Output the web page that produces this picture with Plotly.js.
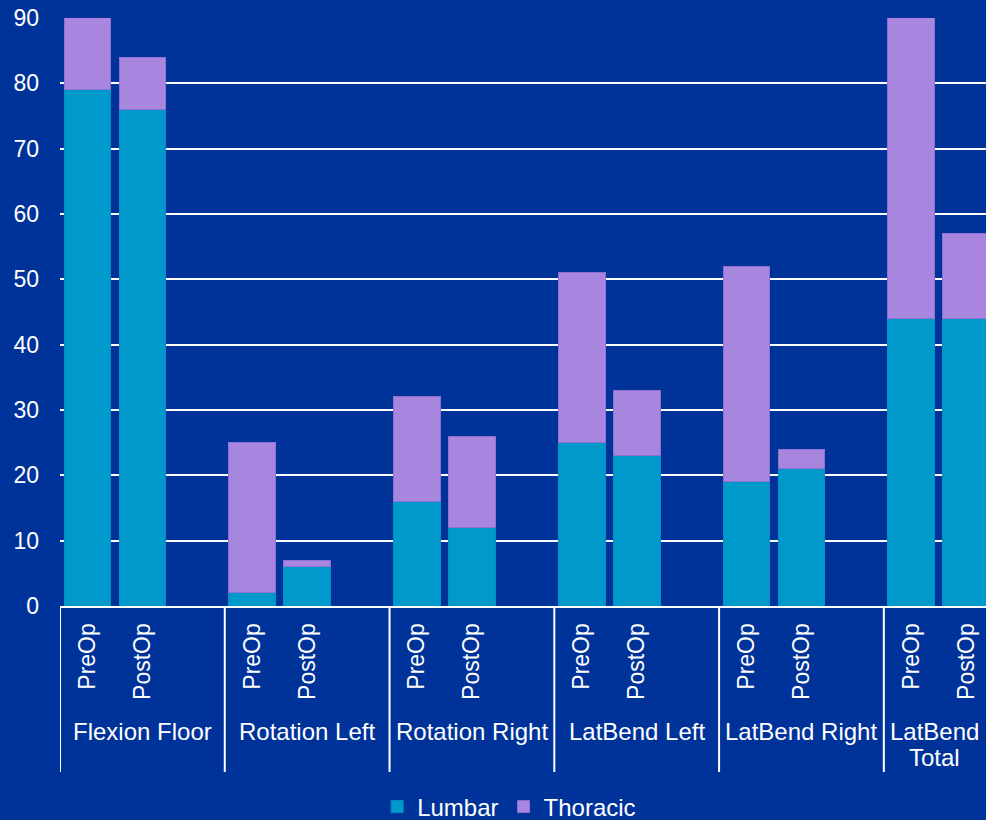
<!DOCTYPE html>
<html>
<head>
<meta charset="utf-8">
<script src="https://cdn.plot.ly/plotly-3.0.1.min.js"></script>
<style>
  html, body { margin: 0; padding: 0; background: #003399; }
  #chart { width: 986px; height: 820px; }
</style>
</head>
<body>
<div id="chart"></div>
<script>
// Movement groups and the two measurement phases within each group
const groups = ['Flexion Floor', 'Rotation Left', 'Rotation Right', 'LatBend Left', 'LatBend Right', 'LatBend Total'];
const groupLabels = ['Flexion Floor', 'Rotation Left', 'Rotation Right', 'LatBend Left', 'LatBend Right', 'LatBend<br>Total'];
const phases = ['PreOp', 'PostOp'];

// Stacked values, ordered group by group: [PreOp, PostOp]
const lumbar   = [79, 76,  2, 6, 16, 12, 25, 23, 19, 21, 44, 44];
const thoracic = [12,  8, 23, 1, 16, 14, 26, 10, 33,  3, 59, 13];

const yTicks = [0, 10, 20, 30, 40, 50, 60, 70, 80, 90];

// ---- layout geometry ----
const W = 986, H = 820;
const M = { l: 60, r: 0, t: 18, b: 214 };
const plotH = H - M.t - M.b;
const plotBottom = H - M.b;
const py = (px) => (plotBottom - px) / plotH;   // pixel row -> paper y

// each group takes its phases plus one empty slot
const slots = phases.length + 1;
const xs = [], tickText = [];
groups.forEach((g, gi) => phases.forEach((p, pi) => { xs.push(gi * slots + pi); tickText.push(p); }));

const xMin = -0.5;
const xMax = 16.36;   // the last group runs past the right edge

const FONT = 'Liberation Sans, Arial, sans-serif';
const WHITE = '#ffffff';

const traces = [
  {
    type: 'bar', name: 'Lumbar', x: xs, y: lumbar,
    marker: { color: '#0099cc', line: { color: '#0b8cc2', width: 1 } },
    hoverinfo: 'skip'
  },
  {
    type: 'bar', name: 'Thoracic', x: xs, y: thoracic,
    marker: { color: '#a886e0', line: { color: '#8d72d2', width: 1 } },
    hoverinfo: 'skip'
  }
];

// group separators below the axis and group captions
const shapes = [];
const annotations = [];
for (let gi = 0; gi <= groups.length; gi++) {
  const xb = gi * slots - 0.5;
  if (xb > xMax) break;
  shapes.push({
    type: 'line', xref: 'x', yref: 'paper',
    x0: xb, x1: xb, y0: 0, y1: py(772),
    line: { color: WHITE, width: 2 }
  });
}
const LINE_STEP = 26;
groups.forEach((g, gi) => {
  const a = gi * slots - 0.5;
  const b = Math.min((gi + 1) * slots - 0.5, xMax);
  groupLabels[gi].split('<br>').forEach((line, li) => {
    annotations.push({
      xref: 'x', yref: 'paper',
      x: (a + b) / 2, y: py(731 + li * LINE_STEP),
      xanchor: 'center', yanchor: 'middle',
      text: line, showarrow: false,
      font: { family: FONT, size: 24, color: WHITE }
    });
  });
});

const layout = {
  width: W, height: H,
  margin: M,
  paper_bgcolor: '#003399',
  plot_bgcolor: '#003399',
  barmode: 'stack',
  bargap: 0.15,
  showlegend: true,
  legend: {
    orientation: 'h',
    traceorder: 'normal',
    xref: 'paper', yref: 'container',
    x: 0.3425, xanchor: 'left',
    y: (H - 807) / H, yanchor: 'middle',
    font: { family: FONT, size: 24, color: WHITE },
    bgcolor: 'rgba(0,0,0,0)',
    itemclick: false, itemdoubleclick: false
  },
  xaxis: {
    type: 'linear',
    range: [xMin, xMax],
    tickvals: xs,
    ticktext: tickText,
    tickangle: -90,
    ticks: '',
    ticklabelstandoff: 6,
    showgrid: false,
    zeroline: false,
    showline: true,
    linecolor: WHITE,
    linewidth: 2,
    tickfont: { family: FONT, size: 23, color: WHITE },
    fixedrange: true
  },
  yaxis: {
    range: [0, 90],
    tickvals: yTicks,
    ticktext: yTicks.map(String),
    showgrid: true,
    gridcolor: WHITE,
    gridwidth: 2,
    zeroline: false,
    showline: false,
    ticks: '',
    ticklabelstandoff: 20,
    tickfont: { family: FONT, size: 23, color: WHITE },
    fixedrange: true
  },
  shapes: shapes,
  annotations: annotations,
  font: { family: FONT, color: WHITE }
};

Plotly.newPlot('chart', traces, layout, { displayModeBar: false, staticPlot: true });
</script>
</body>
</html>
